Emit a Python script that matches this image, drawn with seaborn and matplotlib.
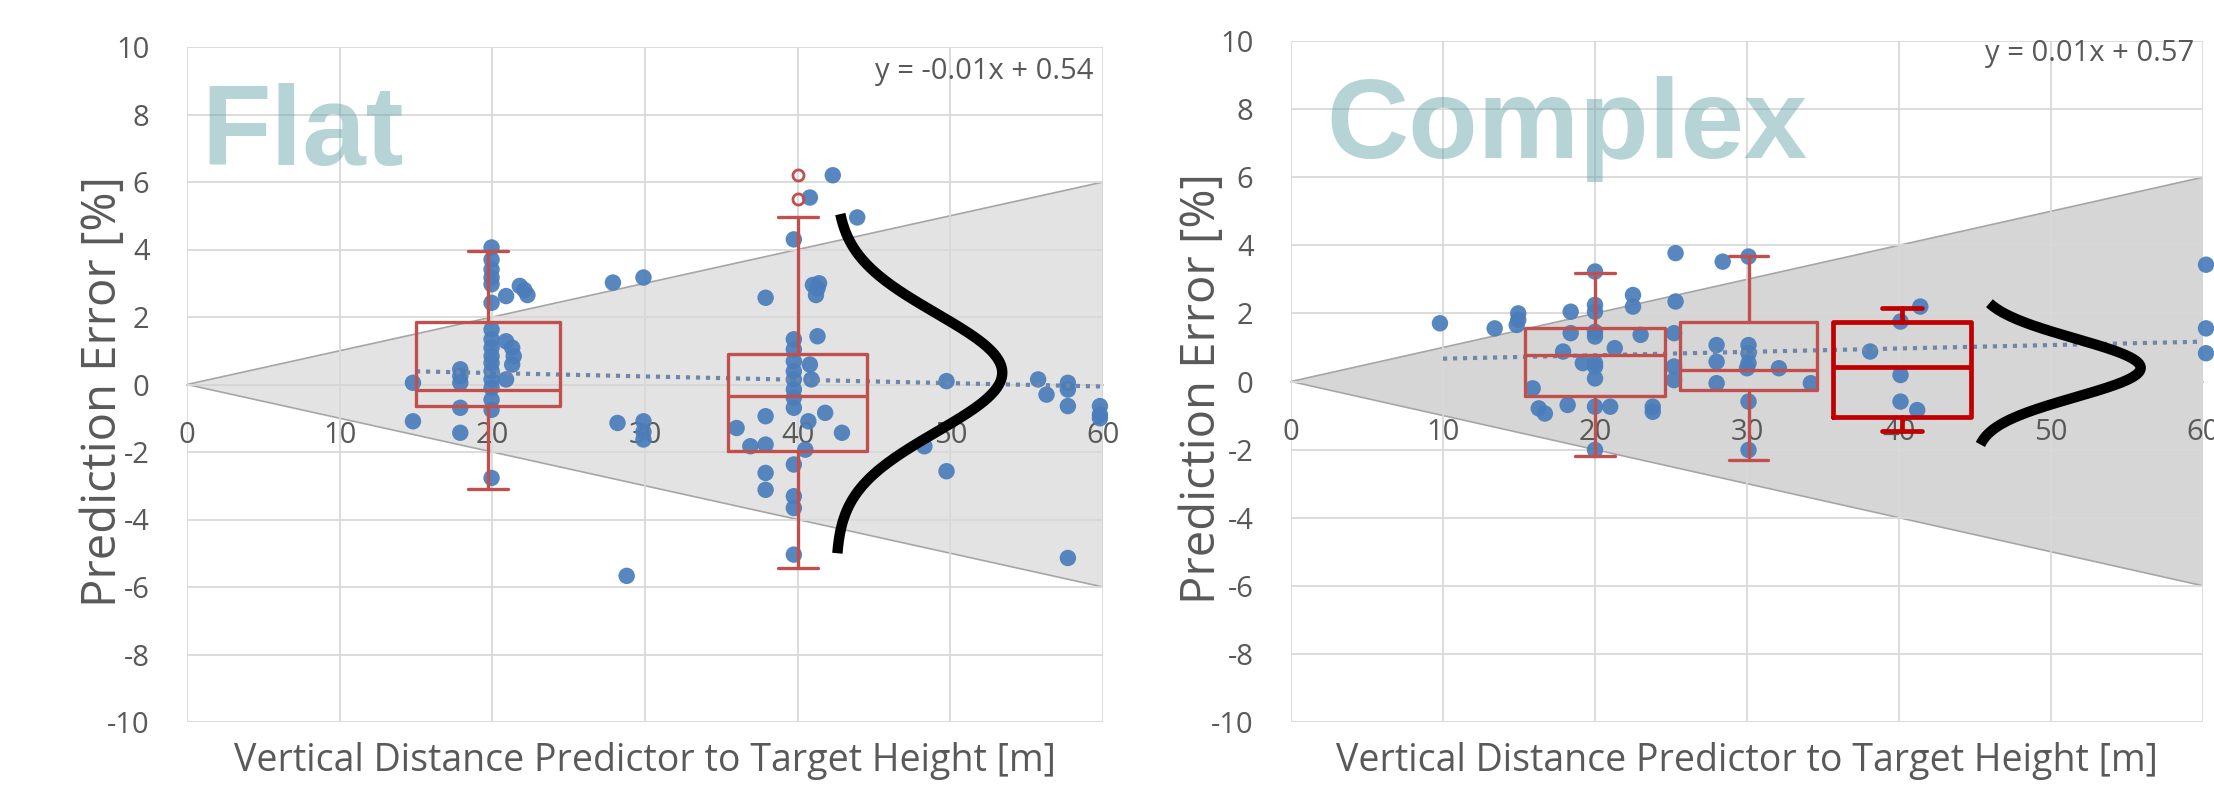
import numpy as np
import pandas as pd
import matplotlib
matplotlib.use("Agg")
import matplotlib.pyplot as plt
import seaborn as sns

# ---------------- data ----------------
flat_x = [14.8, 14.8, 17.9, 17.9, 17.9, 17.9, 17.9,
          19.95, 19.95, 19.95, 19.95, 19.95, 19.95, 19.95, 19.95, 19.95, 19.95, 19.95, 19.95, 19.95, 19.95, 19.95, 19.95, 19.95,
          20.9, 21.3, 21.4, 21.3, 20.9, 20.9, 21.8, 22.1, 22.3,
          27.9, 29.9, 28.2, 29.9, 29.9, 29.9, 28.8,
          42.3, 40.8, 43.9, 39.75, 41.0, 41.3, 41.2, 41.4, 37.9, 41.3,
          39.75, 39.75, 39.75, 39.75, 39.75, 39.75, 39.75, 39.75,
          40.8, 40.9, 37.9, 41.8, 36.0, 42.9, 36.9, 37.9, 40.7, 40.5, 39.75, 37.9, 37.9, 39.75, 39.75, 39.75,
          49.75, 48.3, 49.75, 55.75, 56.3, 57.7, 57.7, 57.7, 59.8, 59.8, 59.8, 57.7]
flat_y = [0.05, -1.09, 0.45, 0.25, 0.05, -0.69, -1.43,
          4.06, 3.7, 3.41, 3.17, 2.97, 2.42, 1.63, 1.34, 1.09, 0.84, 0.64, 0.40, 0.15, -0.1, -0.45, -0.75, -2.77,
          1.28, 1.09, 0.84, 0.59, 0.15, 2.62, 2.92, 2.8, 2.65,
          3.02, 3.17, -1.14, -1.09, -1.4, -1.63, -5.67,
          6.2, 5.54, 4.95, 4.3, 2.95, 2.85, 2.65, 3.0, 2.57, 1.43,
          1.34, 1.04, 0.69, 0.39, 0.15, -0.15, -0.39, -0.69,
          0.59, 0.15, -0.94, -0.84, -1.29, -1.43, -1.83, -1.78, -1.09, -1.93, -2.37, -2.62, -3.12, -3.31, -3.66, -5.04,
          0.1, -1.83, -2.57, 0.15, -0.3, 0.05, -0.15, -0.64, -0.64, -0.89, -1.0, -5.14]

complex_x = [9.8, 13.4, 14.95, 14.95, 14.85, 18.4, 18.4, 17.9, 15.9, 16.3, 16.7, 18.2,
             20.0, 20.0, 20.0, 20.0, 20.0, 20.0, 20.0, 20.0, 20.0, 20.0,
             19.2, 21.3, 21.0, 22.5, 22.5, 23.0, 23.8, 23.8,
             25.3, 25.3, 25.2, 25.2, 25.2,
             28.4, 30.1, 28.0, 28.0, 28.0,
             30.1, 30.1, 30.1, 30.0, 30.1, 30.1,
             32.1, 34.2,
             38.1, 40.1, 41.4, 40.1, 40.1, 41.2,
             60.2, 60.2, 60.2]
complex_y = [1.71, 1.56, 2.0, 1.81, 1.66, 2.05, 1.42, 0.88, -0.2, -0.79, -0.94, -0.69,
             3.23, 2.25, 2.05, 1.46, 1.32, 0.54, 0.44, 0.09, -0.74, -2.01,
             0.54, 0.98, -0.74, 2.54, 2.2, 1.37, -0.74, -0.89,
             3.77, 2.35, 1.42, 0.44, 0.04,
             3.52, 3.67, 1.07, 0.58, -0.05,
             1.07, 0.83, 0.54, 0.39, -0.59, -2.01,
             0.39, -0.05,
             0.88, 1.76, 2.2, 0.19, -0.59, -0.84,
             3.43, 1.56, 0.83]

# box plot summaries (whisker low, Q1, median, Q3, whisker high)
flat_box_pos = [19.7, 40.0]
flat_box_width = [9.4, 9.1]
flat_whislo = [-3.1, -5.45]
flat_q1 = [-0.65, -1.97]
flat_med = [-0.15, -0.35]
flat_q3 = [1.85, 0.9]
flat_whishi = [3.95, 4.95]
flat_fliers = [[], [5.5, 6.2]]

complex_box_pos = [20.0, 30.1, 40.2]
complex_box_width = [9.2, 9.05, 9.1]
complex_whislo = [-2.2, -2.3, -1.45]
complex_q1 = [-0.42, -0.25, -1.03]
complex_med = [0.78, 0.34, 0.44]
complex_q3 = [1.56, 1.76, 1.76]
complex_whishi = [3.2, 3.7, 2.15]
complex_fliers = [[], [], []]

# trend lines y = a*x + b
flat_trend = (-0.01, 0.54, 15, 60)
complex_trend = (0.01, 0.57, 10, 60)

# normal-distribution sketch (base x, amplitude, centre, sigma, y-range)
flat_curve = (42.5, 10.9, 0.35, 1.75, -5.0, 5.05)
complex_curve = (45.0, 10.9, 0.40, 0.86, -1.85, 2.3)

x_ticks = [0, 10, 20, 30, 40, 50, 60]
y_ticks = [-10, -8, -6, -4, -2, 0, 2, 4, 6, 8, 10]
cone_x = [0, 60, 60]
cone_y = [0, 6, -6]

# ---------------- style ----------------
sns.set_theme(style="white")
plt.rcParams["font.family"] = ["Open Sans", "DejaVu Sans"]
plt.rcParams["axes.unicode_minus"] = False

FIG_W, FIG_H = 2214, 786
fig = plt.figure(figsize=(FIG_W / 100, FIG_H / 100), dpi=100)

TXT = "#595959"
BLUE = "#4a7dba"
GRID = "#d9d9d9"


def px_axes(l, r, t, b):
    return fig.add_axes([l / FIG_W, 1 - b / FIG_H, (r - l) / FIG_W, (b - t) / FIG_H])


def panel(ax, xs, ys, box, trend, curve, eq, name, cone_color, name_xy, label_xy, eq_y):
    ax.set_xlim(0, 60)
    ax.set_ylim(-10, 10)
    ax.fill(cone_x, cone_y, facecolor=cone_color, edgecolor="#a6a6a6", lw=1.2, zorder=0.5)
    ax.set_xticks(x_ticks)
    ax.set_yticks(y_ticks)
    ax.grid(True, color=GRID, lw=1.3, zorder=0.8)
    ax.set_axisbelow(False)
    for s in ["top", "right", "left"]:
        ax.spines[s].set_visible(False)
    ax.spines["bottom"].set_position(("data", 0))
    ax.spines["bottom"].set_color("#bfbfbf")
    ax.spines["bottom"].set_linewidth(1.3)
    ax.spines["bottom"].set_zorder(0.9)
    ax.tick_params(axis="both", length=0, labelsize=21, labelcolor=TXT)
    ax.tick_params(axis="x", pad=26)
    ax.tick_params(axis="y", pad=27)

    df = pd.DataFrame({"x": xs, "y": ys})
    sns.scatterplot(data=df, x="x", y="y", ax=ax, s=140, color=BLUE, edgecolor="none",
                    alpha=0.92, zorder=3, clip_on=False, legend=False)

    a, b, x0, x1 = trend
    tx = np.array([x0, x1])
    sns.lineplot(x=tx, y=a * tx + b, ax=ax, color="#6f86a8", lw=3.0,
                 linestyle=(0, (1, 1.4)), zorder=4)

    stats = []
    for i in range(len(box["pos"])):
        stats.append(dict(whislo=box["whislo"][i], q1=box["q1"][i], med=box["med"][i],
                          q3=box["q3"][i], whishi=box["whishi"][i], fliers=box["fliers"][i]))
    for i, st in enumerate(stats):
        col = box["colors"][i]
        lw = box["lws"][i]
        ax.bxp([st], positions=[box["pos"][i]], widths=[box["width"][i]],
               capwidths=[2.6], showfliers=True, manage_ticks=False, zorder=5,
               boxprops=dict(color=col, lw=lw),
               medianprops=dict(color=col, lw=lw),
               whiskerprops=dict(color=col, lw=lw),
               capprops=dict(color=col, lw=lw),
               flierprops=dict(marker="o", markersize=8, markerfacecolor="none",
                               markeredgecolor=col, markeredgewidth=2))

    bx, amp, mu, sig, ylo, yhi = curve
    cy = np.linspace(ylo, yhi, 200)
    cx = bx + amp * np.exp(-(cy - mu) ** 2 / (2 * sig ** 2))
    ax.plot(cx, cy, color="black", lw=7.5, solid_capstyle="butt", zorder=6)

    ax.set_xlabel("Vertical Distance Predictor to Target Height [m]", fontsize=27, color=TXT)
    ax.set_ylabel("Prediction Error [%]", fontsize=34, color=TXT)
    ax.xaxis.set_label_coords(0.5, -0.03)
    ax.yaxis.set_label_coords(*label_xy)

    ax.text(0.99, eq_y, eq, transform=ax.transAxes, ha="right", va="center",
            fontsize=21, color=TXT)
    ax.text(name_xy[0], name_xy[1], name, transform=ax.transAxes, ha="left", va="baseline",
            fontsize=82, fontweight="bold", family="Liberation Sans",
            color="#5fa0a6", alpha=0.45, zorder=7)


ax1 = px_axes(187, 1103, 47, 722)
ax2 = px_axes(1291, 2203, 41, 722)

panel(ax1, flat_x, flat_y,
      dict(pos=flat_box_pos, width=flat_box_width, whislo=flat_whislo, q1=flat_q1, med=flat_med,
           q3=flat_q3, whishi=flat_whishi, fliers=flat_fliers,
           colors=["#c0504d", "#c0504d"], lws=[2.4, 2.4]),
      flat_trend, flat_curve, "y = -0.01x + 0.54", "Flat", "#e3e3e3",
      (0.016, 0.825), (-0.066, 0.49), 0.963)

panel(ax2, complex_x, complex_y,
      dict(pos=complex_box_pos, width=complex_box_width, whislo=complex_whislo, q1=complex_q1,
           med=complex_med, q3=complex_q3, whishi=complex_whishi, fliers=complex_fliers,
           colors=["#c0504d", "#c0504d", "#c00000"], lws=[2.4, 2.4, 3.4]),
      complex_trend, complex_curve, "y = 0.01x + 0.57", "Complex", "#d6d6d6",
      (0.039, 0.828), (-0.071, 0.49), 0.982)

fig.savefig("out.png", dpi=100)
